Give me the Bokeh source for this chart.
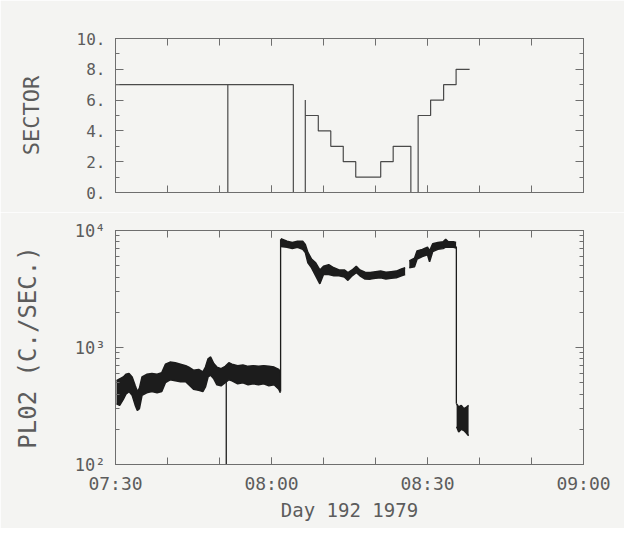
import math
from bokeh.plotting import figure
from bokeh.layouts import column
from bokeh.models import FixedTicker, LinearAxis, LogAxis, Range1d
from bokeh.embed import file_html
from bokeh.resources import INLINE

# ---------------- data (time = minutes after 07:30, Day 192 1979) ----------------
x_ticks = [0, 30, 60, 90]
x_tick_labels = ["07:30", "08:00", "08:30", "09:00"]
x_minor_ticks = [0, 10, 20, 30, 40, 50, 60, 70, 80, 90]

sector_ticks = [0, 2, 4, 6, 8, 10]
sector_tick_labels = ["0.", "2.", "4.", "6.", "8.", "10."]
sector_minor = [1, 3, 5, 7, 9]

# sector step traces (value held after each time)
sectorA_t = [0.0, 21.6, 21.6, 34.2]
sectorA_v = [7, 0, 7, 0]
sectorB_t = [36.5, 36.5, 36.5, 39.0, 41.4, 43.8, 46.2, 51.0, 53.4, 56.8]
sectorB_v = [0, 6, 5, 4, 3, 2, 1, 2, 3, 0]
sectorC_t = [58.0, 58.2, 60.6, 63.1, 65.5, 68.1]
sectorC_v = [0, 5, 6, 7, 8, 8]

rate_ticks = [100, 1000, 10000]
rate_tick_labels = ["10\u00b2", "10\u00b3", "10\u2074"]
rate_minor = [200, 300, 400, 500, 600, 700, 800, 900,
              2000, 3000, 4000, 5000, 6000, 7000, 8000, 9000]

# PL02 count-rate envelope (lower / upper edge of the noisy trace), per segment
pl1_t = [0.2, 0.8, 1.5, 2.0, 2.6, 3.2, 3.8, 4.2, 4.6, 5.1, 6.0, 7.0, 8.0, 8.9, 9.6, 10.5,
         11.5, 12.5, 13.5, 14.1, 15.0, 16.0, 16.8, 17.3, 17.8, 18.3, 18.9, 19.5, 20.3,
         21.1, 21.8, 22.4, 23.5, 24.5, 25.5, 26.5, 27.5, 28.5, 29.5, 30.5, 31.4, 31.7]
pl1_lo = [330, 320, 360, 400, 420, 390, 320, 290, 300, 390, 410, 420, 410, 420, 500, 530,
          520, 510, 510, 480, 440, 430, 420, 460, 560, 580, 540, 480, 470,
          500, 530, 520, 490, 500, 480, 490, 480, 490, 470, 480, 440, 410]
pl1_hi = [520, 540, 560, 590, 600, 560, 470, 420, 450, 560, 590, 600, 590, 610, 720, 750,
          740, 720, 700, 680, 640, 650, 620, 680, 800, 830, 730, 680, 660,
          690, 740, 720, 700, 710, 690, 700, 690, 700, 690, 680, 650, 620]

pl2_t = [31.8, 33.0, 34.0, 35.0, 36.0, 36.5, 37.0, 37.7, 38.5, 39.3, 40.0, 41.0, 42.0,
         43.0, 44.0, 44.7, 45.5, 46.3, 47.0, 48.0, 49.0, 50.0, 51.0, 52.0, 53.0, 54.0,
         55.0, 55.7]
pl2_lo = [7300, 7200, 7000, 7200, 6900, 6500, 5300, 4800, 4100, 3500, 4200, 4200, 4100,
          4100, 4000, 3750, 4100, 4370, 4100, 3850, 3840, 3900, 3950, 3850, 3900, 3950,
          4100, 4200]
pl2_hi = [8500, 8100, 7900, 8100, 8100, 7600, 6500, 5700, 5300, 4600, 4950, 5100, 4800,
          4600, 4600, 4370, 4600, 4950, 4600, 4400, 4370, 4450, 4500, 4400, 4450, 4500,
          4700, 4800]

pl3_t = [56.5, 57.5, 58.0, 59.0, 60.0, 60.4, 61.0, 62.0, 63.0, 63.5, 64.0, 65.0, 65.5]
pl3_lo = [4800, 4900, 5700, 6000, 6200, 5400, 6600, 6900, 7000, 7200, 7200, 7200, 7100]
pl3_hi = [5500, 5800, 6700, 6900, 7200, 6700, 7700, 7900, 8000, 8400, 8000, 8000, 7900]

pl4_t = [65.6, 66.0, 66.5, 67.0, 67.5, 67.9]
pl4_lo = [210, 190, 200, 195, 185, 176]
pl4_hi = [330, 310, 320, 300, 310, 320]

# vertical transitions of the trace (time, from, to)
jump_t = [21.3, 31.75, 65.55]
jump_from = [520, 420, 7300]
jump_to = [100, 8400, 330]

# ---------------- style ----------------
FONT = "DejaVu Sans Mono"
AX = "#6e6e6e"
TXT = "#5c5c5c"
INK = "#1c1c1c"
PAPER = "#f4f4f2"


def style_axis(ax, labels=True, size="16px"):
    ax.axis_line_color = AX
    ax.major_tick_line_color = AX
    ax.minor_tick_line_color = AX
    ax.major_tick_in = 8
    ax.major_tick_out = 0
    ax.minor_tick_in = 4
    ax.minor_tick_out = 0
    ax.major_label_text_font = FONT
    ax.axis_label_text_font = FONT
    ax.axis_label_text_color = TXT
    ax.axis_label_text_font_style = "normal"
    if labels:
        ax.major_label_text_font_size = size
        ax.major_label_text_color = TXT
    else:
        ax.major_label_text_font_size = "8px"
        ax.major_label_text_color = None
        ax.major_label_standoff = 0


# ---------------- top panel: SECTOR ----------------
top = figure(width=624, height=212, x_range=Range1d(0, 90), y_range=Range1d(0, 10),
             output_backend="svg", toolbar_location=None,
             min_border_left=115, min_border_right=39, min_border_top=38, min_border_bottom=20,
             background_fill_color=PAPER, border_fill_color=PAPER)
top.xgrid.visible = False
top.ygrid.visible = False
top.outline_line_color = AX

top.xaxis.ticker = FixedTicker(ticks=x_ticks, minor_ticks=x_minor_ticks)
style_axis(top.xaxis[0], labels=False)
top.xaxis.major_tick_in = 7
top.xaxis.minor_tick_in = 7
top.yaxis.ticker = FixedTicker(ticks=sector_ticks, minor_ticks=sector_minor)
top.yaxis.major_label_overrides = dict(zip(sector_ticks, sector_tick_labels))
style_axis(top.yaxis[0], labels=True, size="16px")
top.yaxis.major_label_standoff = 10
top.yaxis.axis_label = "SECTOR"
top.yaxis.axis_label_text_font_size = "22px"
top.yaxis.axis_label_standoff = 30

ta = LinearAxis(ticker=FixedTicker(ticks=x_ticks, minor_ticks=x_minor_ticks))
style_axis(ta, labels=False)
ta.major_tick_in = 7
ta.minor_tick_in = 7
top.add_layout(ta, "above")
tr = LinearAxis(ticker=FixedTicker(ticks=sector_ticks, minor_ticks=sector_minor))
style_axis(tr, labels=False)
top.add_layout(tr, "right")

for st, sv in [(sectorA_t, sectorA_v), (sectorB_t, sectorB_v), (sectorC_t, sectorC_v)]:
    top.step(st, sv, mode="after", line_color="#4a4a4a", line_width=1.2)

# ---------------- bottom panel: PL02 ----------------
bot = figure(width=624, height=316, x_range=Range1d(0, 90), y_range=Range1d(100, 10000),
             y_axis_type="log", output_backend="svg", toolbar_location=None,
             min_border_left=114, min_border_right=41, min_border_top=18, min_border_bottom=64,
             background_fill_color=PAPER, border_fill_color=PAPER)
bot.xgrid.visible = False
bot.ygrid.visible = False
bot.outline_line_color = AX

bot.xaxis.ticker = FixedTicker(ticks=x_ticks, minor_ticks=x_minor_ticks)
bot.xaxis.major_label_overrides = dict(zip(x_ticks, x_tick_labels))
style_axis(bot.xaxis[0], labels=True, size="18px")
bot.xaxis.major_tick_in = 7
bot.xaxis.minor_tick_in = 7
bot.xaxis.major_label_standoff = 8
bot.xaxis.axis_label = "Day 192 1979"
bot.xaxis.axis_label_text_font_size = "19px"
bot.xaxis.axis_label_standoff = 2

bot.yaxis.ticker = FixedTicker(ticks=rate_ticks, minor_ticks=rate_minor)
bot.yaxis.major_label_overrides = dict(zip(rate_ticks, rate_tick_labels))
style_axis(bot.yaxis[0], labels=True, size="17px")
bot.yaxis.major_label_standoff = 10
bot.yaxis.axis_label = "PL02 (C./SEC.)"
bot.yaxis.axis_label_text_font_size = "24px"
bot.yaxis.axis_label_standoff = 30

ba = LinearAxis(ticker=FixedTicker(ticks=x_ticks, minor_ticks=x_minor_ticks))
style_axis(ba, labels=False)
ba.major_tick_in = 7
ba.minor_tick_in = 7
bot.add_layout(ba, "above")
br = LogAxis(ticker=FixedTicker(ticks=rate_ticks, minor_ticks=rate_minor))
style_axis(br, labels=False)
bot.add_layout(br, "right")

for t, lo, hi in [(pl1_t, pl1_lo, pl1_hi), (pl2_t, pl2_lo, pl2_hi),
                  (pl3_t, pl3_lo, pl3_hi), (pl4_t, pl4_lo, pl4_hi)]:
    bot.varea(x=t, y1=lo, y2=hi, fill_color=INK)
    bot.line(t, lo, line_color=INK, line_width=1.5)
    bot.line(t, hi, line_color=INK, line_width=1.5)

bot.segment(x0=jump_t, y0=jump_from, x1=jump_t, y1=jump_to, line_color=INK, line_width=1.3)

p = column(top, bot, spacing=0)
open("out.html", "w").write(file_html(p, INLINE))
